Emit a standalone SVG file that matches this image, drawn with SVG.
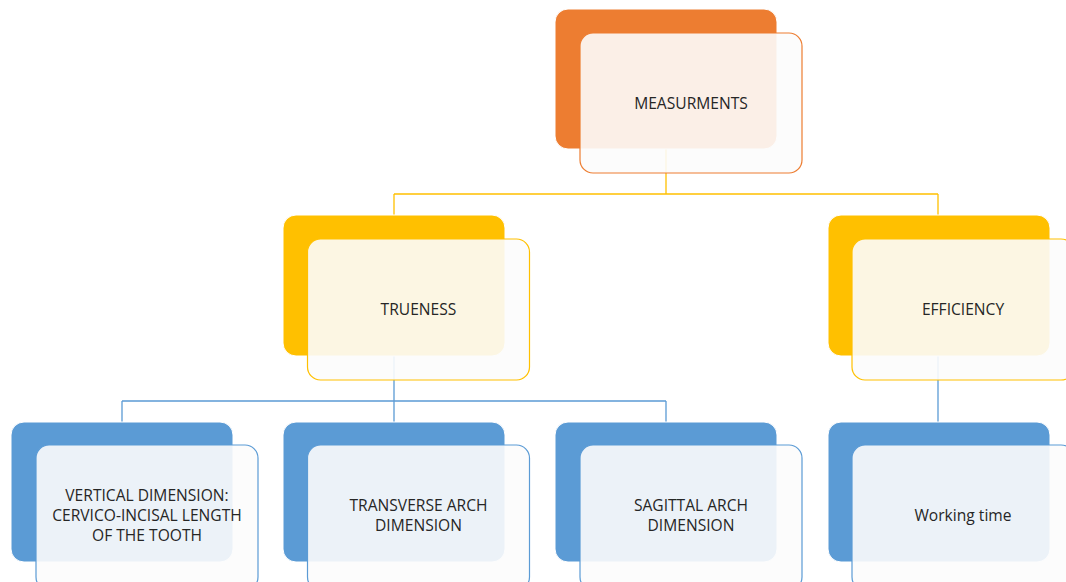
<svg xmlns="http://www.w3.org/2000/svg" width="1066" height="582" viewBox="0 0 1066 582">
<style>
.back{stroke:#ffffff;stroke-width:1}
.o{fill:#ED7D31}.y{fill:#FFC000}.b{fill:#5B9BD5}
.front{fill:#FCFCFC;fill-opacity:0.9;stroke-width:1.2}
.fo{stroke:#ED7D31}.fy{stroke:#FFC000}.fb{stroke:#5B9BD5}
text{font-family:"Open Sans","Liberation Sans",sans-serif;font-size:15.6px;fill:#262626;text-anchor:middle;dominant-baseline:central}
.cy{stroke:#FFC000;stroke-width:1.3;fill:none}
.cb{stroke:#5B9BD5;stroke-width:1.3;fill:none}
</style>
<rect width="1066" height="582" fill="#ffffff"/>
<g id="connectors">
<path class="cy" d="M666 149V194M394 194H938M394 194V215M938 194V216"/>
<path class="cb" d="M394 356V401M122 401H666M122 401V422M394 401V422M666 401V422"/>
<path class="cb" d="M938 356V422"/>
</g>
<g id="measurments">
<rect class="back o" x="555" y="9" width="222" height="140" rx="13"/>
<rect class="front fo" x="580" y="33" width="222" height="140" rx="13"/>
<text x="691" y="103">MEASURMENTS</text>
</g>
<g id="trueness">
<rect class="back y" x="283" y="215" width="222" height="141" rx="13"/>
<rect class="front fy" x="307.5" y="239" width="222" height="141" rx="13"/>
<text x="418.5" y="309">TRUENESS</text>
</g>
<g id="efficiency">
<rect class="back y" x="828" y="215" width="222" height="141" rx="13"/>
<rect class="front fy" x="852" y="239" width="222" height="141" rx="13"/>
<text x="963" y="309">EFFICIENCY</text>
</g>
<g id="vertical">
<rect class="back b" x="11" y="422" width="222" height="140" rx="13"/>
<rect class="front fb" x="36" y="445" width="222" height="145" rx="13"/>
<text x="147" y="495">VERTICAL DIMENSION:</text>
<text x="147" y="515">CERVICO-INCISAL LENGTH</text>
<text x="147" y="535">OF THE TOOTH</text>
</g>
<g id="transverse">
<rect class="back b" x="283" y="422" width="222" height="140" rx="13"/>
<rect class="front fb" x="307.5" y="445" width="222" height="145" rx="13"/>
<text x="418.5" y="505">TRANSVERSE ARCH</text>
<text x="418.5" y="525">DIMENSION</text>
</g>
<g id="sagittal">
<rect class="back b" x="555" y="422" width="222" height="140" rx="13"/>
<rect class="front fb" x="580" y="445" width="222" height="145" rx="13"/>
<text x="691" y="505">SAGITTAL ARCH</text>
<text x="691" y="525">DIMENSION</text>
</g>
<g id="working-time">
<rect class="back b" x="828" y="422" width="222" height="140" rx="13"/>
<rect class="front fb" x="852" y="445" width="222" height="145" rx="13"/>
<text x="963" y="515">Working time</text>
</g>
</svg>
